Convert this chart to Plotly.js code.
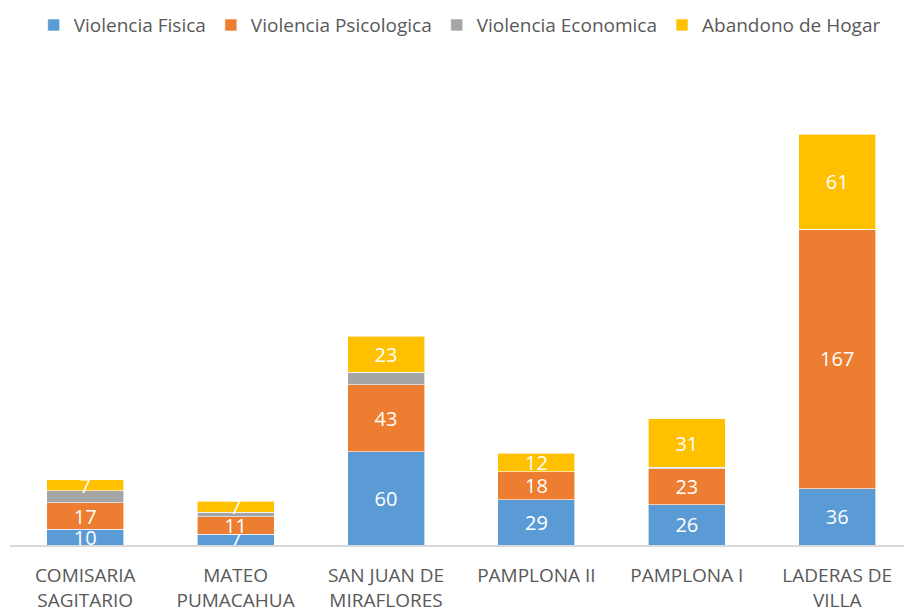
<!DOCTYPE html>
<html>
<head>
<meta charset="utf-8">
<script src="https://cdn.plot.ly/plotly-3.0.1.min.js"></script>
<style>html,body{margin:0;padding:0;background:#fff;}#chart{width:904px;height:613px;}</style>
</head>
<body>
<div id="chart"></div>
<script>
const categories = ["COMISARIA<br>SAGITARIO", "MATEO<br>PUMACAHUA", "SAN JUAN DE<br>MIRAFLORES", "PAMPLONA II", "PAMPLONA I", "LADERAS DE<br>VILLA"];
const violenciaFisica = [10, 7, 60, 29, 26, 36];
const violenciaPsicologica = [17, 11, 43, 18, 23, 167];
const violenciaEconomica = [8, 3, 8, 0, 1, 0];
const abandonoHogar = [7, 7, 23, 12, 31, 61];

const seriesNames = ["Violencia Fisica", "Violencia Psicologica", "Violencia Economica", "Abandono de Hogar"];
const seriesValues = [violenciaFisica, violenciaPsicologica, violenciaEconomica, abandonoHogar];
const colors = ["#5B9BD5", "#ED7D31", "#A5A5A5", "#FFC000"];
const showLabels = [true, true, false, true];

const FONT = "Open Sans, Noto Sans, sans-serif";

const traces = seriesValues.map((vals, i) => ({
  type: "bar",
  name: seriesNames[i],
  x: categories,
  y: vals,
  marker: {color: colors[i], line: {color: "#ffffff", width: 0.6}},
  texttemplate: showLabels[i] ? "%{y}" : "",
  textposition: showLabels[i] ? "inside" : "none",
  insidetextanchor: "middle",
  textangle: 0,
  constraintext: "none",
  textfont: {color: "#ffffff", size: 20, family: FONT},
  hoverinfo: "skip"
}));

const layout = {
  width: 904,
  height: 613,
  barmode: "stack",
  bargap: 0.488,
  margin: {l: 10, r: 0, t: 78, b: 68},
  paper_bgcolor: "#ffffff",
  plot_bgcolor: "#ffffff",
  font: {family: FONT, color: "#595959", size: 19},
  uniformtext: {mode: "show", minsize: 20},
  showlegend: true,
  legend: {
    orientation: "h",
    x: 0.503, xanchor: "center",
    y: 0.99, yanchor: "top",
    yref: "container",
    traceorder: "normal",
    font: {family: FONT, color: "#595959", size: 19},
    itemwidth: 30,
    itemclick: false
  },
  xaxis: {
    type: "category",
    range: [-0.5, 5.444],
    showline: true,
    linecolor: "#d9d9d9",
    linewidth: 1.5,
    ticks: "",
    ticklabelstandoff: 13,
    showgrid: false,
    tickfont: {family: FONT, color: "#595959", size: 19},
    fixedrange: true
  },
  yaxis: {
    range: [0, 300],
    visible: false,
    showgrid: false,
    zeroline: false,
    fixedrange: true
  }
};

Plotly.newPlot("chart", traces, layout, {displayModeBar: false, staticPlot: true});
</script>
</body>
</html>
